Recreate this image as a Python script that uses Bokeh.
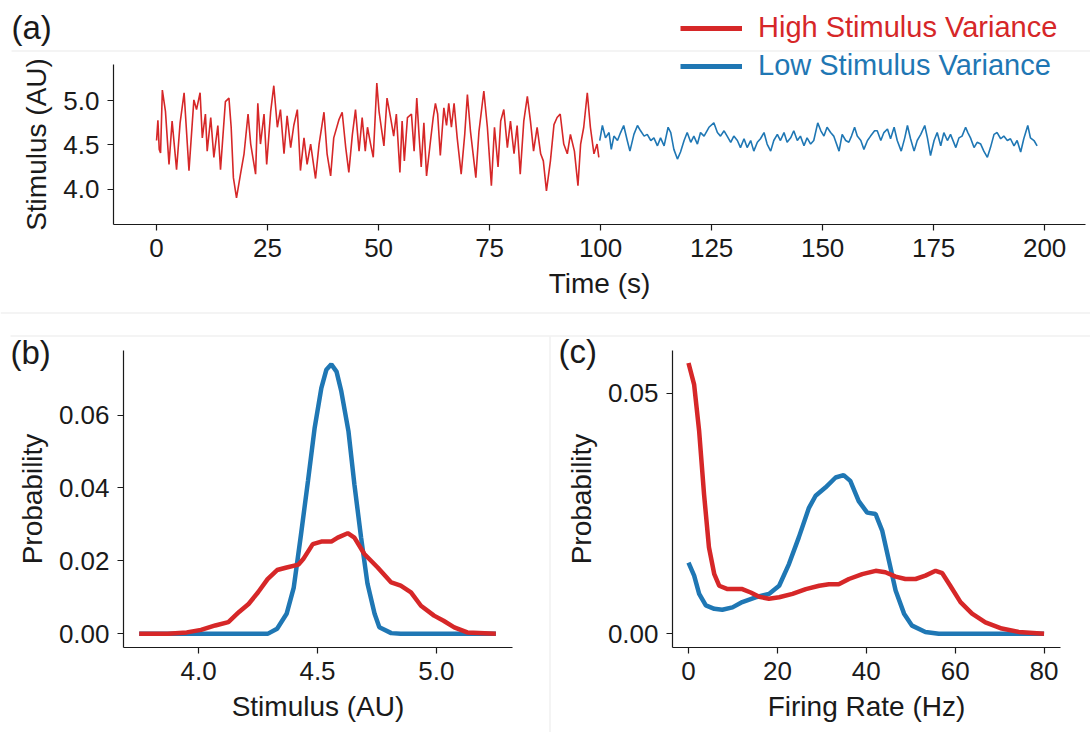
from bokeh.plotting import figure
from bokeh.layouts import column, row
from bokeh.models import (FixedTicker, Legend, LegendItem, Label, Range1d,
                          NumeralTickFormatter, BoxAnnotation)
from bokeh.embed import file_html
from bokeh.resources import INLINE

RED = "#d62728"
BLUE = "#1f77b4"
FONT = "Liberation Sans"
INK = "#1a1a1a"

# ---------------- data ----------------
# (a) stimulus time series
t_high = [0.0,0.3,0.6,0.9,1.3,2.0,2.8,3.5,4.5,5.3,
          6.2,6.5,7.3,8.4,9.0,9.8,10.3,11.0,11.4,12.2,
          12.9,13.8,14.4,15.5,16.3,16.8,17.3,18.0,18.9,19.7,
          20.6,21.2,22.3,22.8,23.4,24.2,24.8,25.7,26.4,27.2,
          27.9,28.7,29.4,30.2,30.9,31.7,32.4,33.2,33.9,34.7,
          35.8,36.6,37.7,38.4,39.2,39.9,41.1,41.8,42.6,43.3,
          44.1,44.8,45.6,46.3,47.0,47.5,48.2,48.8,49.6,50.1,
          50.6,51.2,51.9,52.7,53.4,54.0,54.8,55.3,55.8,56.5,
          57.4,58.0,58.6,59.1,59.6,60.2,60.8,61.7,62.3,62.8,
          63.3,63.9,64.7,65.3,65.8,66.4,67.0,67.7,68.6,69.4,
          70.0,70.7,71.9,72.6,73.7,74.5,75.4,76.1,76.9,77.5,
          78.2,79.0,79.7,80.5,81.2,81.9,82.7,83.5,84.2,84.9,
          85.7,86.5,87.1,87.8,88.7,89.5,90.2,90.9,91.7,92.5,
          93.2,94.1,94.9,95.5,96.2,97.0,97.7,98.5,99.2,99.6]
v_high = [4.55,4.78,4.45,4.41,5.12,4.88,4.28,4.77,4.22,4.75,
          5.09,4.85,4.21,5.01,4.90,5.09,4.58,4.85,4.43,4.81,
          4.36,4.72,4.22,4.99,5.03,4.70,4.13,3.90,4.17,4.40,
          4.85,4.51,4.17,4.97,4.51,4.85,4.28,4.88,5.17,4.70,
          4.90,4.40,4.83,4.47,4.72,4.90,4.21,4.58,4.28,4.51,
          4.12,4.51,4.87,4.40,4.15,4.58,4.79,4.87,4.47,4.19,
          4.62,4.90,4.43,4.81,4.43,4.70,4.51,4.36,5.20,4.88,
          4.70,4.49,5.03,4.81,4.60,4.85,4.19,4.77,4.32,4.81,
          4.85,4.43,5.03,4.62,4.25,4.75,4.15,4.55,4.81,4.97,
          4.85,4.38,4.92,4.72,4.97,4.70,4.97,4.58,4.17,4.62,
          5.07,4.65,4.13,4.65,5.11,4.70,4.04,4.70,4.25,4.77,
          4.90,4.47,4.77,4.40,4.72,4.17,4.77,5.05,4.77,4.43,
          4.70,4.40,4.32,3.98,4.32,4.73,4.81,4.85,4.51,4.40,
          4.62,4.43,4.04,4.51,4.70,5.09,4.70,4.40,4.51,4.36]
t_low = [99.8,100.4,101.1,101.9,102.4,103.0,103.8,104.5,105.2,106.0,
         106.6,107.5,108.3,109.0,109.8,110.5,111.3,112.0,112.8,113.5,
         114.3,115.2,115.8,116.5,117.3,118.0,118.8,119.5,120.3,121.0,
         121.8,122.5,123.3,124.4,125.5,126.3,127.0,127.8,128.5,129.3,
         130.0,130.8,131.5,132.3,133.0,133.8,134.5,135.3,136.0,136.8,
         137.5,138.3,139.0,139.8,140.5,141.3,142.0,142.8,143.5,144.3,
         145.0,145.8,146.5,147.3,148.0,148.9,149.6,150.3,151.0,151.8,
         152.5,153.7,154.4,155.2,155.9,156.5,157.2,157.8,158.6,159.3,
         160.1,160.8,161.7,162.3,163.1,163.8,164.6,165.3,166.1,166.8,
         167.7,168.5,169.1,169.8,170.6,171.3,172.1,173.0,173.6,174.3,
         175.1,175.8,176.6,177.3,178.1,178.8,180.0,180.7,181.4,182.2,
         182.7,183.3,184.1,184.8,185.6,186.3,187.1,187.8,188.6,189.3,
         190.1,190.8,191.6,192.3,193.1,193.8,194.6,195.3,196.2,196.8,
         197.6,198.3]
v_low = [4.55,4.72,4.58,4.64,4.45,4.60,4.55,4.64,4.72,4.55,
         4.43,4.62,4.72,4.66,4.60,4.62,4.55,4.58,4.49,4.58,
         4.49,4.70,4.64,4.45,4.34,4.42,4.55,4.64,4.53,4.60,
         4.51,4.64,4.60,4.70,4.75,4.64,4.60,4.66,4.60,4.53,
         4.60,4.55,4.47,4.57,4.47,4.55,4.43,4.53,4.57,4.64,
         4.51,4.43,4.55,4.62,4.55,4.64,4.53,4.58,4.66,4.55,
         4.60,4.49,4.58,4.51,4.55,4.75,4.66,4.60,4.70,4.64,
         4.60,4.43,4.62,4.55,4.53,4.60,4.70,4.60,4.55,4.45,
         4.55,4.60,4.66,4.66,4.55,4.64,4.68,4.57,4.70,4.55,
         4.43,4.58,4.72,4.57,4.43,4.55,4.62,4.72,4.58,4.38,
         4.55,4.64,4.49,4.64,4.55,4.62,4.47,4.58,4.60,4.70,
         4.64,4.58,4.47,4.53,4.51,4.43,4.36,4.47,4.62,4.64,
         4.57,4.60,4.55,4.57,4.49,4.55,4.42,4.57,4.72,4.58,
         4.55,4.49]

# (b) stimulus distributions
stim_high = [3.75,3.87,3.95,4.01,4.07,4.125,4.17,4.21,4.25,4.29,
             4.33,4.37,4.42,4.44,4.48,4.516,4.558,4.585,4.627,4.655,
             4.697,4.753,4.81,4.85,4.893,4.935,4.99,5.03,5.075,5.13,5.25]
prob_stim_high = [0,0,0.0004,0.0011,0.0023,0.0032,0.006,0.0082,0.0114,0.015,
                  0.0175,0.0182,0.019,0.0205,0.0246,0.0253,0.0253,0.0264,0.0276,0.0264,
                  0.0219,0.0182,0.0141,0.0132,0.0114,0.0077,0.005,0.0036,0.0018,0.0004,0]
stim_low = [3.75,4.29,4.33,4.37,4.40,4.43,4.46,4.488,4.516,4.537,
            4.558,4.58,4.60,4.63,4.655,4.683,4.71,4.74,4.76,4.81,4.85,5.25]
prob_stim_low = [0,0,0.0014,0.0055,0.0127,0.027,0.042,0.0565,0.0674,0.0724,
                 0.0739,0.0719,0.0665,0.0556,0.041,0.0265,0.0138,0.0055,0.0018,0.0002,0,0]

# (c) firing-rate distributions
rate_high = [0.0,1.27,2.4,3.5,4.6,5.8,6.9,8.8,12.1,14.0,
             15.9,18.1,20.4,23.4,26.4,29.4,31.6,33.8,36.1,39.1,
             42.1,44.3,46.6,48.8,51.1,53.3,55.6,57.1,58.9,61.2,
             63.8,66.8,70.5,74.3,80.0]
prob_rate_high = [0.0563,0.0518,0.0421,0.029,0.018,0.0124,0.0100,0.0093,0.0093,0.0086,
                  0.0077,0.0073,0.0076,0.0083,0.0093,0.0100,0.0103,0.0103,0.0114,0.0124,
                  0.0131,0.0128,0.0119,0.0114,0.0114,0.0121,0.0131,0.0126,0.0100,0.0066,
                  0.0042,0.0024,0.0011,0.0004,0.0]
rate_low = [0.0,1.27,2.4,3.9,5.8,7.6,9.9,12.1,15.1,18.1,
            20.4,22.6,24.8,27.1,28.6,30.8,33.1,34.9,36.4,38.3,
            40.2,42.1,43.6,45.1,46.6,48.5,50.3,53.3,56.3,80.0]
prob_rate_low = [0.0148,0.0121,0.0083,0.0059,0.0052,0.0050,0.0055,0.0066,0.0076,0.0083,
                 0.0100,0.0145,0.0200,0.0262,0.0287,0.0304,0.0325,0.0330,0.0318,0.0276,
                 0.0252,0.0249,0.0214,0.0152,0.0090,0.0042,0.0017,0.0004,0.0,0.0]

labels = ["High Stimulus Variance", "Low Stimulus Variance"]
panel_names = ["(a)", "(b)", "(c)"]
time_ticks = [0, 25, 50, 75, 100, 125, 150, 175, 200]
stim_ticks_y = [4.0, 4.5, 5.0]
stim_ticks_x = [4.0, 4.5, 5.0]
prob_ticks_b = [0.0, 0.02, 0.04, 0.06]
rate_ticks = [0, 20, 40, 60, 80]
prob_ticks_c = [0.0, 0.05]


def style(p, xticks, yticks, xlabel, ylabel, xfmt, yfmt):
    p.xgrid.visible = False
    p.ygrid.visible = False
    p.outline_line_color = None
    for ax in (p.xaxis[0], p.yaxis[0]):
        ax.major_tick_in = 0
        ax.major_tick_out = 6
        ax.minor_tick_line_color = None
        ax.axis_line_color = INK
        ax.major_tick_line_color = INK
        ax.axis_line_width = 1.2
        ax.major_tick_line_width = 1.2
        ax.major_label_text_font = FONT
        ax.major_label_text_font_size = "26px"
        ax.major_label_text_color = INK
        ax.axis_label_text_font = FONT
        ax.axis_label_text_font_size = "28px"
        ax.axis_label_text_font_style = "normal"
        ax.axis_label_text_color = INK
        ax.major_label_standoff = 8
        ax.axis_label_standoff = 8
    p.xaxis.ticker = FixedTicker(ticks=xticks)
    p.yaxis.ticker = FixedTicker(ticks=yticks)
    p.xaxis.axis_label = xlabel
    p.yaxis.axis_label = ylabel
    p.xaxis.formatter = NumeralTickFormatter(format=xfmt)
    p.yaxis.formatter = NumeralTickFormatter(format=yfmt)


# ---------------- (a) ----------------
pa = figure(width=1090, height=313, output_backend="svg", toolbar_location=None,
            x_range=Range1d(-9.7, 209.2), y_range=Range1d(3.6, 5.41),
            min_border_left=113, min_border_right=5, min_border_top=64, min_border_bottom=89)
pa.line(t_high, v_high, color=RED, line_width=1.6)
pa.line(t_low, v_low, color=BLUE, line_width=1.6)
style(pa, time_ticks, stim_ticks_y, "Time (s)", "Stimulus (AU)", "0", "0.0")

# ---------------- (b) ----------------
pb = figure(width=548, height=419, output_backend="svg", toolbar_location=None,
            x_range=Range1d(3.684, 5.32), y_range=Range1d(-0.00374, 0.0777),
            min_border_left=123, min_border_right=36, min_border_top=37, min_border_bottom=85)
pb.line(stim_low, prob_stim_low, color=BLUE, line_width=4.5)
pb.line(stim_high, prob_stim_high, color=RED, line_width=4.5)
style(pb, stim_ticks_x, prob_ticks_b, "Stimulus (AU)", "Probability", "0.0", "0.00")

# ---------------- (c) ----------------
pc = figure(width=542, height=419, output_backend="svg", toolbar_location=None,
            x_range=Range1d(-3.6, 83.7), y_range=Range1d(-0.00284, 0.0589),
            min_border_left=124, min_border_right=30, min_border_top=37, min_border_bottom=85)
pc.line(rate_low, prob_rate_low, color=BLUE, line_width=4.5)
pc.line(rate_high, prob_rate_high, color=RED, line_width=4.5)
style(pc, rate_ticks, prob_ticks_c, "Firing Rate (Hz)", "Probability", "0", "0.00")

# ---------------- overlay: panel letters, legend, separators ----------------
ov = figure(width=1090, height=732, output_backend="svg", toolbar_location=None,
            x_range=Range1d(0, 1090), y_range=Range1d(732, 0),
            x_axis_type=None, y_axis_type=None,
            min_border=0, min_border_left=0, min_border_right=0,
            min_border_top=0, min_border_bottom=0,
            background_fill_color=None, border_fill_color=None, outline_line_color=None)

for (l, r, t, b) in ((11, 1090, 50, 51), (0, 1090, 312, 313), (10, 1090, 335, 336), (549, 550, 336, 732)):
    ov.add_layout(BoxAnnotation(left=l, right=r, top=t, bottom=b, fill_color="#e9e9e9",
                                fill_alpha=1, line_alpha=0))

for name, x, y in zip(panel_names, (11, 10, 558), (27, 352, 351)):
    ov.add_layout(Label(x=x, y=y, text=name, text_font=FONT, text_font_size="33px",
                        text_color=INK, text_baseline="alphabetic", text_align="left"))

# legend proxies (one off-canvas point each, so that the legend can draw its line sample)
leg_r = ov.line(x=[-50], y=[-50], color=RED, line_width=5)
leg_b = ov.line(x=[-50], y=[-50], color=BLUE, line_width=5)
for rend, lab, col, vy in ((leg_r, labels[0], RED, 688), (leg_b, labels[1], BLUE, 650)):
    lg = Legend(items=[LegendItem(label=lab, renderers=[rend])], location=(680, vy),
                label_text_color=col, label_text_font=FONT, label_text_font_size="29px",
                glyph_width=62, glyph_height=20, label_standoff=16, padding=0, margin=0,
                border_line_color=None, background_fill_alpha=0)
    ov.add_layout(lg, "center")

layout = column(row(pa), row(pb, pc), row(ov, margin=(-732, 0, 0, 0)))
open("out.html", "w").write(file_html(layout, INLINE))
